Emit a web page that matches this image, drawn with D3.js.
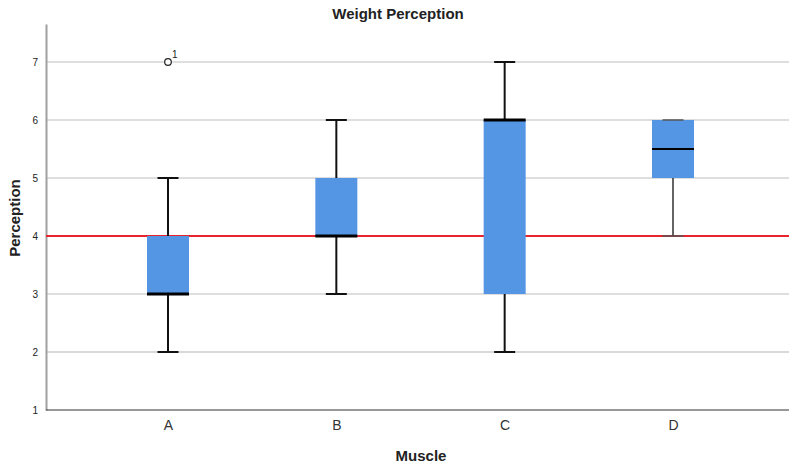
<!DOCTYPE html>
<html><head><meta charset="utf-8">
<script src="https://cdn.jsdelivr.net/npm/d3@7"></script>
<style>body{margin:0;background:#fff}svg{display:block;font-family:"Liberation Sans",Arial,sans-serif}</style>
</head><body>
<svg id="c" width="789" height="464"></svg>
<script>
const categories = ["A","B","C","D"];
const whiskerLow  = [2, 3, 2, 4];
const q1          = [3, 4, 3, 5];
const median      = [3, 4, 6, 5.5];
const q3          = [4, 5, 6, 6];
const whiskerHigh = [5, 6, 7, 6];
const outliers    = [{cat:"A", value:7, label:"1"}];
const yTicks = [1,2,3,4,5,6,7];
const refValue = 4;

(function(){
const svg = d3.select("#c");
const pL = 46, pR = 789, pT = 24, pB = 410;
const y = d3.scaleLinear().domain([1, 7.655]).range([pB, pT]);
const x = d3.scalePoint().domain(categories).range([168, 673]);
const boxW = 42, capW = 21;

// gridlines
svg.append("g").selectAll("line").data(yTicks.filter(t=>t>1)).join("line")
  .attr("x1", pL).attr("x2", pR)
  .attr("y1", d=>y(d)).attr("y2", d=>y(d))
  .attr("stroke", d=> d===2 ? "#d9d9d9" : "#bdbdbd").attr("stroke-width", d=> d===2 ? 2 : 1.2);

// y axis
const ya = svg.append("g").attr("transform",`translate(${pL},0)`)
  .call(d3.axisLeft(y).tickValues(yTicks).tickFormat(d3.format("d")).tickSize(0).tickPadding(8));
ya.select(".domain").attr("stroke","#a0a0a0").attr("stroke-width",2);
ya.selectAll("text").attr("font-size",10).attr("fill","#222").attr("font-family","Liberation Sans, Arial");

// x axis
const xa = svg.append("g").attr("transform",`translate(0,${pB})`)
  .call(d3.axisBottom(x).tickSize(0).tickPadding(10));
xa.select(".domain").attr("d", `M${pL},0H${pR}`).attr("stroke","#333").attr("stroke-width",1.2);
xa.selectAll("text").attr("font-size",14).attr("fill","#333").attr("font-family","Liberation Sans, Arial");

// reference line (behind boxes)
svg.append("line").attr("x1",pL).attr("x2",pR).attr("y1",y(refValue)).attr("y2",y(refValue))
  .attr("stroke","#e8242c").attr("stroke-width",1.8);

const data = categories.map((c,i)=>({c, lo:whiskerLow[i], q1:q1[i], med:median[i], q3:q3[i], hi:whiskerHigh[i]}));
const g = svg.append("g");

// whiskers
data.forEach((d,i)=>{
  const cx = x(d.c);
  const sw = d.c==="D" ? 1.3 : 2;
  if (d.hi > d.q3) {
    g.append("line").attr("x1",cx).attr("x2",cx).attr("y1",y(d.q3)).attr("y2",y(d.hi)).attr("stroke","#111").attr("stroke-width",sw);
  }
  if (d.lo < d.q1) {
    g.append("line").attr("x1",cx).attr("x2",cx).attr("y1",y(d.q1)).attr("y2",y(d.lo)).attr("stroke","#111").attr("stroke-width",sw);
  }
});

// boxes
g.selectAll("rect").data(data).join("rect")
  .attr("x", d=>x(d.c)-boxW/2).attr("width", boxW)
  .attr("y", d=>y(d.q3)).attr("height", d=>y(d.q1)-y(d.q3))
  .attr("fill","#5596e4");

// caps
const cg = svg.append("g");
data.forEach(d=>{
  const cx = x(d.c);
  const col = d.c==="D" ? "#555" : "#111";
  const sw = d.c==="D" ? 1.5 : 2;
  [d.lo, d.hi].forEach(v=>{
    cg.append("line").attr("x1",cx-capW/2).attr("x2",cx+capW/2).attr("y1",y(v)).attr("y2",y(v))
      .attr("stroke",col).attr("stroke-width",sw);
  });
});
svg.append("g").selectAll("line").data(data).join("line")
  .attr("x1", d=>x(d.c)-boxW/2).attr("x2", d=>x(d.c)+boxW/2)
  .attr("y1", d=>y(d.med)).attr("y2", d=>y(d.med))
  .attr("stroke","#000").attr("stroke-width", d=> d.c==="D" ? 2 : 3);

// outliers
outliers.forEach(o=>{
  svg.append("circle").attr("cx",x(o.cat)).attr("cy",y(o.value)).attr("r",3.3)
    .attr("fill","#fff").attr("stroke","#222").attr("stroke-width",1.2);
  svg.append("text").attr("x",x(o.cat)+4).attr("y",y(o.value)-3.5).text(o.label)
    .attr("font-size",10).attr("fill","#222");
});

// titles
svg.append("text").attr("x",398).attr("y",19).attr("text-anchor","middle")
  .attr("font-size",15).attr("font-weight","bold").attr("fill","#222").text("Weight Perception");
svg.append("text").attr("x",421).attr("y",461).attr("text-anchor","middle")
  .attr("font-size",15).attr("font-weight","bold").attr("fill","#222").text("Muscle");
svg.append("text").attr("transform",`translate(20,218) rotate(-90)`).attr("text-anchor","middle")
  .attr("font-size",15).attr("font-weight","bold").attr("fill","#222").text("Perception");
})();
</script>
</body></html>
